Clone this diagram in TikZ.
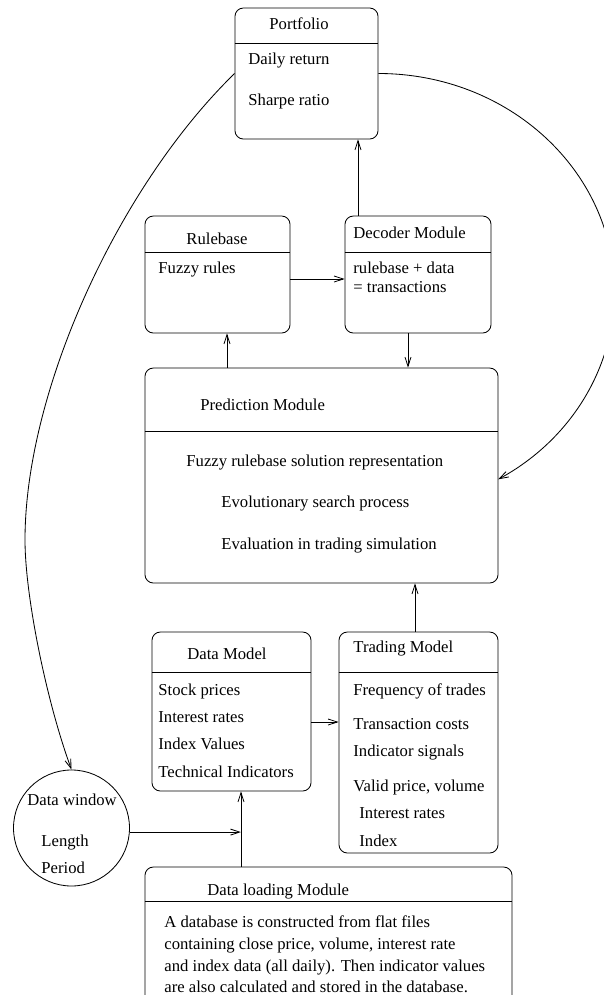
\documentclass[tikz,border=0pt]{standalone}
\usepackage{fontspec}
\setmainfont{Liberation Serif}
\usetikzlibrary{arrows.meta,fit,shapes.geometric}
\begin{document}
\begin{tikzpicture}[x=0.6pt,y=-0.6pt,
  line width=0.5pt,
  box/.style={draw, rounded corners=5pt, inner sep=0pt},
  txt/.style={anchor=base west, inner sep=0pt, font=\fontsize{10}{12}\selectfont},
  conn/.style={-{Straight Barb[length=5.5pt,width=3.6pt]}}]
\useasboundingbox (0,0) rectangle (604,995);
\clip (0,0) rectangle (604,995);

% module boxes
\node[box, fit={(235,8) (378,139)}] (pf) {};
\node[box, fit={(145,216) (290,333)}] (rb) {};
\node[box, fit={(345,216) (491,333)}] (dc) {};
\node[box, fit={(145,368) (498,583)}] (pr) {};
\node[box, fit={(152,632) (311,791)}] (dm) {};
\node[box, fit={(339,632) (498,853)}] (tm) {};
\node[box, fit={(145,867) (512,1005)}] (dl) {};
\node[draw, circle, minimum size=69.6pt, inner sep=0pt] (dw) at (71.5,828) {};

% header dividers
\draw (pf.west |- 0,43) -- (pf.east |- 0,43);
\draw (rb.west |- 0,252) -- (rb.east |- 0,252);
\draw (dc.west |- 0,252) -- (dc.east |- 0,252);
\draw (pr.west |- 0,431) -- (pr.east |- 0,431);
\draw (dm.west |- 0,672) -- (dm.east |- 0,672);
\draw (tm.west |- 0,672) -- (tm.east |- 0,672);
\draw (dl.west |- 0,901) -- (dl.east |- 0,901);

% Portfolio
\node[txt] (pf1) at (269,29) {Portfolio};
\node[txt] (pf2) at (248,64) {Daily return};
\node[txt] (pf3) at (248,105) {Sharpe ratio};

% Rulebase
\node[txt] (rb1) at (186,244) {Rulebase};
\node[txt] (rb2) at (158,273) {Fuzzy rules};

% Decoder
\node[txt] (dc1) at (353,238) {Decoder Module};
\node[txt] (dc2) at (353,273) {rulebase + data};
\node[txt] (dc3) at (353,292) {= transactions};

% Prediction
\node[txt] (pr1) at (200,410) {Prediction Module};
\node[txt] (pr2) at (186,466) {Fuzzy rulebase solution representation};
\node[txt] (pr3) at (221,507) {Evolutionary search process};
\node[txt] (pr4) at (221,549) {Evaluation in trading simulation};

% Data model
\node[txt] (dm1) at (187,659) {Data Model};
\node[txt] (dm2) at (158,695) {Stock prices};
\node[txt] (dm3) at (158,722) {Interest rates};
\node[txt] (dm4) at (158,749) {Index Values};
\node[txt] (dm5) at (158,777) {Technical Indicators};

% Trading model
\node[txt] (tm1) at (353,652) {Trading Model};
\node[txt] (tm2) at (353,695) {Frequency of trades};
\node[txt] (tm3) at (353,729) {Transaction costs};
\node[txt] (tm4) at (353,756) {Indicator signals};
\node[txt] (tm5) at (353,791) {Valid price, volume};
\node[txt] (tm6) at (359,818) {Interest rates};
\node[txt] (tm7) at (359,846) {Index};

% Data window
\node[txt] (dw1) at (27,805) {Data window};
\node[txt] (dw2) at (41,846) {Length};
\node[txt] (dw3) at (41,873) {Period};

% Data loading
\node[txt] (dl1) at (207,895) {Data loading Module};
\node[txt] (dl2) at (164,927) {A database is constructed from flat files};
\node[txt] (dl3) at (164,949) {containing close price, volume, interest rate};
\node[txt] (dl4) at (164,971) {and index data (all daily). Then indicator values};
\node[txt] (dl5) at (164,992) {are also calculated and stored in the database.};

% connectors
\draw[conn] (dc.north -| 358,0) -- (pf.south -| 358,0);
\draw[conn] (rb.east |- 0,279) -- (dc.west |- 0,279);
\draw[conn] (pr.north -| 227,0) -- (rb.south -| 227,0);
\draw[conn] (dc.south -| 408,0) -- (pr.north -| 408,0);
\draw[conn] (tm.north -| 415,0) -- (pr.south -| 415,0);
\draw[conn] (dm.east |- 0,722) -- (tm.west |- 0,722);
\draw[conn] (dl.north -| 241,0) -- (dm.south -| 241,0);
\coordinate (join) at (dw.-4 -| 241,0);
\draw[conn] (dw.-4) -- (join);
\draw[conn] (pf.west) .. controls (119,186) and (25,390) .. (25,540)
  .. controls (25,595) and (46,700) .. (dw.north);
\draw[conn] (pf.east) arc[start angle=-90, end angle=59.5, x radius=236, y radius=218];
\end{tikzpicture}
\end{document}
